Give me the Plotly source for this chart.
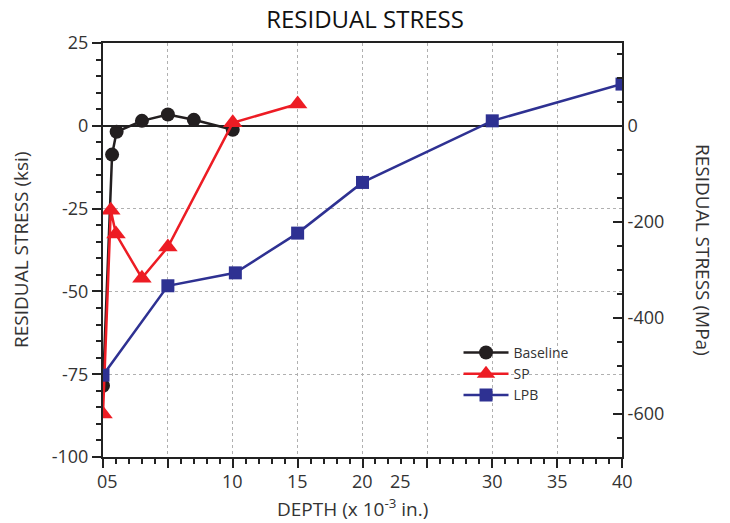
import plotly.graph_objects as go

base_x = [0, 0.7, 1.05, 3, 5, 7, 10]
base_y = [-78.5, -8.7, -1.8, 1.5, 3.4, 1.8, -1.2]
sp_x = [0, 0.6, 1.0, 3, 5, 10, 15]
sp_y = [-87, -25.5, -32.7, -46, -36.6, 0.9, 6.6]
lpb_x = [0, 5, 10.2, 15, 20, 30, 40]
lpb_y = [-75.3, -48.3, -44.4, -32.4, -17.1, 1.5, 12.6]

xlabel_pos = [0.35, 10, 15, 20, 22.9, 30, 35, 40]
xlabel_text = ["05", "10", "15", "20", "25", "30", "35", "40"]
ksi_ticks = [25, 0, -25, -50, -75, -100]
ksi_text = ["25", "0", "-25", "-50", "-75", "-100"]
mpa_ticks = [0, -200, -400, -600]
mpa_text = ["0", "-200", "-400", "-600"]
KSI_TO_MPA = 6.895

FONT = "Open Sans"
TXT = "#333333"
AX = "#222222"

fig = go.Figure()
fig.add_trace(go.Scatter(x=base_x, y=base_y, name="Baseline", mode="lines+markers",
                         line=dict(color="#231f20", width=2.5),
                         marker=dict(symbol="circle", size=14, color="#231f20")))
fig.add_trace(go.Scatter(x=sp_x, y=sp_y, name="SP", mode="lines+markers",
                         line=dict(color="#ed1c24", width=2.5),
                         marker=dict(symbol="triangle-up", size=17, color="#ed1c24")))
fig.add_trace(go.Scatter(x=lpb_x, y=lpb_y, name="LPB", mode="lines+markers",
                         line=dict(color="#2e3192", width=2.5),
                         marker=dict(symbol="square", size=13, color="#2e3192")))
fig.add_trace(go.Scatter(x=[0], y=[0], yaxis="y2", showlegend=False,
                         mode="markers", marker=dict(opacity=0), hoverinfo="skip"))

fig.update_layout(
    width=730, height=523,
    margin=dict(l=103, r=108, t=43, b=66, autoexpand=False),
    paper_bgcolor="white", plot_bgcolor="white",
    font=dict(family=FONT, size=16, color=TXT),
    title=dict(text="RESIDUAL STRESS", x=(365 - 0) / 730, xanchor="center", y=0.962, yanchor="middle",
               automargin=False, font=dict(family=FONT, size=24, color="#111")),
    xaxis=dict(range=[0, 40], tickmode="linear", tick0=0, dtick=5, automargin=False,
               showticklabels=False, ticks="outside", ticklen=9, tickwidth=1.5, tickcolor=AX,
               minor=dict(dtick=1, ticks="outside", ticklen=5, tickwidth=1.5, tickcolor=AX, showgrid=False),
               showline=True, linecolor=AX, linewidth=2, mirror=True,
               showgrid=True, gridcolor="#b0b0b0", griddash="dot", gridwidth=1,
               zeroline=False),
    yaxis=dict(range=[-100, 25], tickvals=ksi_ticks, ticktext=ksi_text, automargin=False,
               ticks="outside", ticklen=9, tickwidth=1.5, tickcolor=AX,
               minor=dict(dtick=5, ticks="outside", ticklen=5, tickwidth=1.5, tickcolor=AX, showgrid=False),
               showline=True, linecolor=AX, linewidth=2,
               showgrid=True, gridcolor="#b0b0b0", griddash="dot", gridwidth=1,
               zeroline=True, zerolinecolor=AX, zerolinewidth=2,
               tickfont=dict(size=18, color=TXT)),
    yaxis2=dict(range=[-100 * KSI_TO_MPA, 25 * KSI_TO_MPA], overlaying="y", side="right",
                tickvals=mpa_ticks, ticktext=mpa_text, automargin=False,
                ticks="inside", ticklen=9, tickwidth=1.5, tickcolor=AX,
                minor=dict(dtick=50, ticks="inside", ticklen=5, tickwidth=1.5, tickcolor=AX, showgrid=False),
                showline=True, linecolor=AX, linewidth=2,
                showgrid=False, zeroline=False, tickfont=dict(size=18, color=TXT)),
    legend=dict(x=0.685, y=0.29, xanchor="left", yanchor="top", bgcolor="rgba(0,0,0,0)",
                font=dict(size=14, color=TXT), tracegroupgap=0, itemwidth=45),
    showlegend=True,
)

for xp, t in zip(xlabel_pos, xlabel_text):
    fig.add_annotation(x=xp, y=0, xref="x", yref="paper", yshift=-10, text=t, showarrow=False,
                       yanchor="top", font=dict(size=18, color=TXT))

fig.add_annotation(x=(352 - 103) / (730 - 103 - 108), y=-0.124, xref="paper", yref="paper",
                   xanchor="center", text="DEPTH (x 10<sup>-3</sup> in.)", showarrow=False,
                   yanchor="middle", font=dict(size=19, color=TXT))
fig.add_annotation(x=(21 - 103) / 519, y=0.5, xref="paper", yref="paper", textangle=-90,
                   xanchor="center", text="RESIDUAL STRESS (ksi)", showarrow=False,
                   font=dict(size=19, color=TXT))
fig.add_annotation(x=(703 - 103) / 519, y=0.5, xref="paper", yref="paper", textangle=90,
                   xanchor="center", text="RESIDUAL STRESS (MPa)", showarrow=False,
                   font=dict(size=19, color=TXT))

fig.write_html("out.html", config={"displayModeBar": False},
               post_script="document.body.style.margin='0';")
